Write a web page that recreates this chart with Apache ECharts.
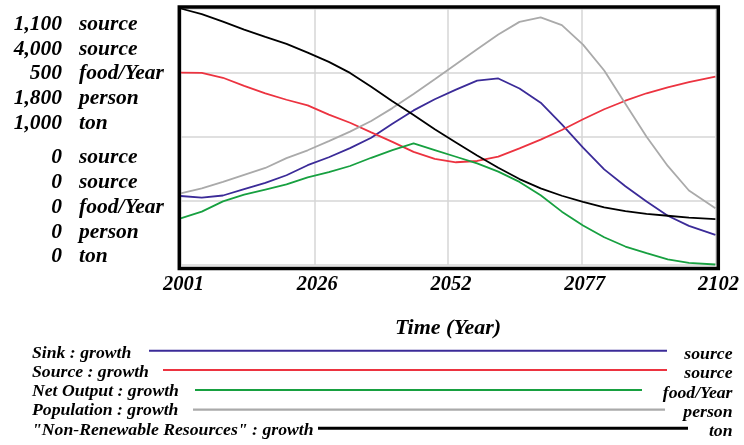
<!DOCTYPE html>
<html><head><meta charset="utf-8">
<script src="https://cdn.jsdelivr.net/npm/echarts@6/dist/echarts.min.js"></script>
<style>html,body{margin:0;padding:0;background:#fff}#c{width:744px;height:445px}</style>
</head><body><div id="c"></div>
<script>
const startYear = 2001;
const endYear = 2102;
const xTickLabels = ['2001', '2026', '2052', '2077', '2102'];
const years = [2001,2005,2009,2013,2017,2021,2025,2029,2033,2037,2041,2045,2049,2053,2057,2061,2065,2069,2073,2077,2081,2085,2089,2093,2097,2102];
const sink = [296,289,298,325,352,385,428,462,501,546,606,663,711,752,791,800,757,696,603,503,410,338,272,211,168,129];
const source = [3000,2995,2920,2793,2677,2577,2489,2346,2218,2069,1921,1764,1656,1602,1622,1689,1819,1956,2105,2273,2429,2562,2678,2770,2852,2937];
const netOutput = [91,104,124,137,147,157,171,181,193,209,224,237,224,211,198,182,162,136,104,77,54,36,23,11,4,1];
const population = [503,537,584,633,681,750,805,869,936,1011,1101,1200,1304,1409,1514,1617,1706,1738,1683,1546,1365,1132,900,695,523,398];
const resources = [1000,978,949,918,889,862,828,792,749,695,638,585,529,478,427,379,335,299,270,246,225,210,199,192,185,179];
const seriesNames = ['Sink : growth', 'Source : growth', 'Net Output : growth', 'Population : growth', '"Non-Renewable Resources" : growth'];
const units = ['source', 'source', 'food/Year', 'person', 'ton'];
const axisMax = [1100, 4000, 500, 1800, 1000];
const axisMin = [0, 0, 0, 0, 0];
const xTitle = 'Time (Year)';

const allData = [sink, source, netOutput, population, resources];
const colors = ['#3b2b98', '#ec3340', '#17a040', '#aaaaaa', '#000000'];
const FONT = '"Liberation Serif", "Times New Roman", serif';

function txt(x, y, text, size, align) {
  return {
    type: 'text', z: 110,
    style: {
      x: x, y: y, text: text, fill: '#000',
      font: 'italic bold ' + size + 'px ' + FONT,
      textAlign: align, align: align,
      textVerticalAlign: 'middle', verticalAlign: 'middle'
    }
  };
}
const fmt = v => v.toLocaleString('en-US');

const graphics = [];
// left scale labels
for (let i = 0; i < 5; i++) {
  const yTop = 24.3 + i * 24.8;
  const yBot = 157.5 + i * 24.85;
  graphics.push(txt(62, yTop, fmt(axisMax[i]), 21.5, 'right'));
  graphics.push(txt(79, yTop, units[i], 21.5, 'left'));
  graphics.push(txt(62, yBot, fmt(axisMin[i]), 21.5, 'right'));
  graphics.push(txt(79, yBot, units[i], 21.5, 'left'));
}
// legend
const legY = [353, 372.3, 391.6, 410.9, 430.4];
const lineY = [350.7, 370, 390, 409.7, 428.3];
const lineX = [[149, 667], [163, 667], [195, 642], [193, 665], [318, 688]];
const lineW = [2, 2, 2.2, 2.2, 3];
for (let i = 0; i < 5; i++) {
  graphics.push(txt(32, legY[i], seriesNames[i], 17.7, 'left'));
  graphics.push(txt(732.5, legY[i] + 1.5, units[i], 17.7, 'right'));
  graphics.push({
    type: 'line', z: 110,
    shape: { x1: lineX[i][0], y1: lineY[i], x2: lineX[i][1], y2: lineY[i] },
    style: { stroke: colors[i], lineWidth: lineW[i] }
  });
}
// plot frame
graphics.push({
  type: 'rect', z: 120,
  shape: { x: 179.3, y: 7, width: 539, height: 261.5 },
  style: { fill: 'none', stroke: '#000', lineWidth: 3.5 }
});

const chart = echarts.init(document.getElementById('c'), null, { renderer: 'canvas' });
chart.setOption({
  animation: false,
  backgroundColor: '#fff',
  grid: { left: 180.6, right: 28.6, top: 8.5, bottom: 180, containLabel: false },
  xAxis: {
    type: 'value', min: 0, max: endYear - startYear, interval: (endYear - startYear) / 4,
    axisLine: { show: false }, axisTick: { show: false },
    axisLabel: {
      margin: 10, padding: [0, 0, 0, 6],
      formatter: (v, i) => xTickLabels[i] !== undefined ? xTickLabels[i] : String(Math.round(startYear + v)),
      color: '#000', fontFamily: FONT, fontStyle: 'italic', fontWeight: 'bold', fontSize: 20.5
    },
    splitLine: { show: true, lineStyle: { color: '#d6d6d6', width: 1.5 } },
    name: xTitle, nameLocation: 'middle', nameGap: 52,
    nameTextStyle: { color: '#000', fontFamily: FONT, fontStyle: 'italic', fontWeight: 'bold', fontSize: 22 }
  },
  yAxis: axisMax.map((m, i) => ({
    type: 'value', min: axisMin[i], max: m, interval: m / 4,
    position: 'left', offset: 0,
    axisLine: { show: false }, axisTick: { show: false }, axisLabel: { show: false },
    splitLine: { show: i === 0, lineStyle: { color: '#d6d6d6', width: 1.5 } }
  })),
  series: allData.map((arr, i) => ({
    name: seriesNames[i], type: 'line', yAxisIndex: i, showSymbol: false, symbol: 'none',
    lineStyle: { color: colors[i], width: 1.8 }, itemStyle: { color: colors[i] },
    data: years.map((y, k) => [y - startYear, arr[k]])
  })),
  graphic: graphics
});
</script>
</body></html>
